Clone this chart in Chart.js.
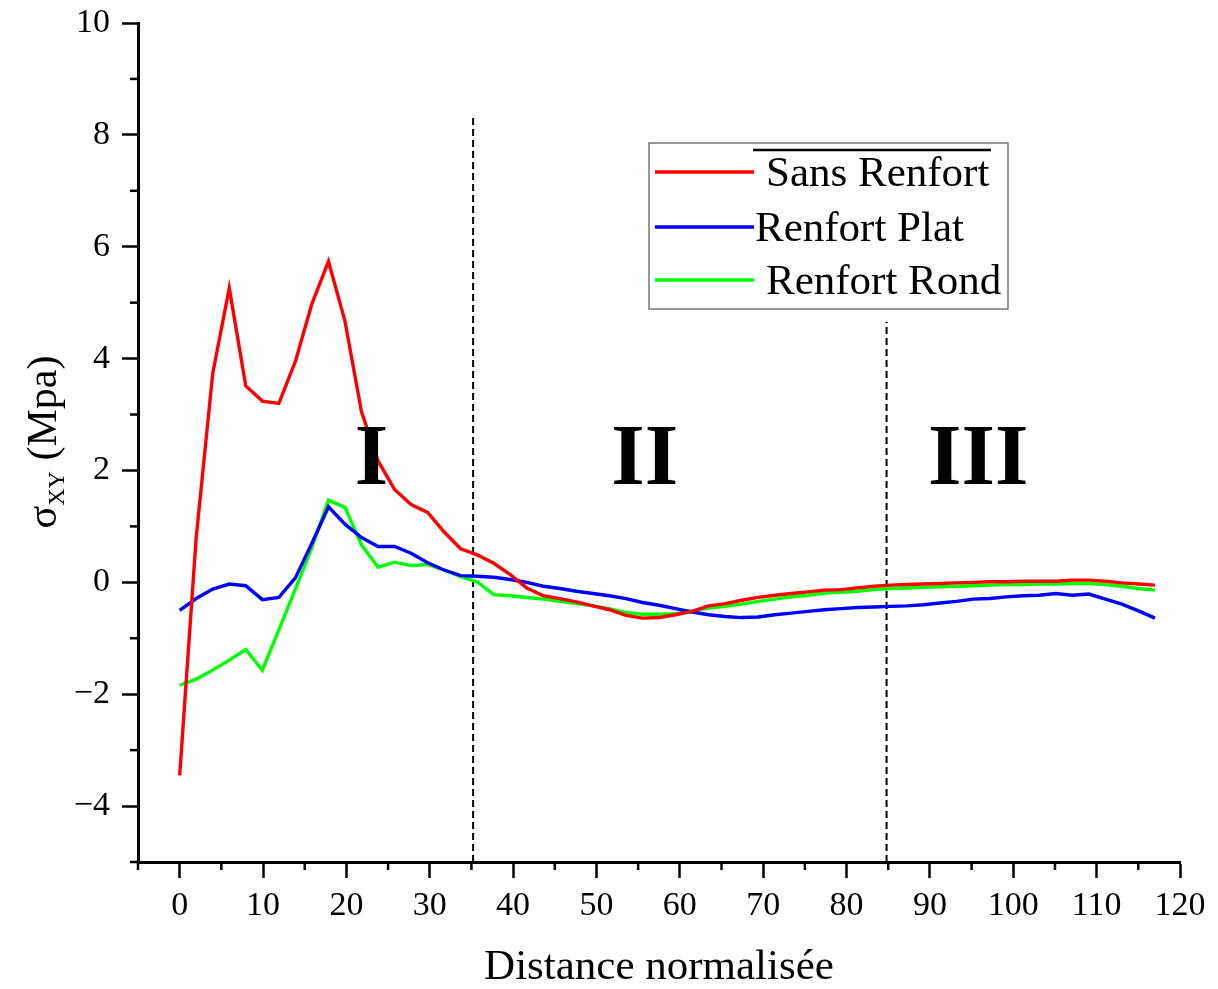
<!DOCTYPE html>
<html>
<head>
<meta charset="utf-8">
<script src="https://cdn.jsdelivr.net/npm/chart.js@4.4.0/dist/chart.umd.min.js"></script>
<style>
  html, body { margin: 0; padding: 0; background: #fff; }
  canvas { display: block; }
</style>
</head>
<body>
<canvas id="stressChart" width="1218" height="989"></canvas>
<script>
// distance normalisée (x) for every sample point
const distances = [0, 1.98, 3.97, 5.95, 7.93, 9.92, 11.9, 13.88, 15.86, 17.85,
  19.83, 21.81, 23.8, 25.78, 27.76, 29.75, 31.73, 33.71, 35.69, 37.68,
  39.66, 41.64, 43.63, 45.61, 47.59, 49.58, 51.56, 53.54, 55.53, 57.51,
  59.49, 61.47, 63.46, 65.44, 67.42, 69.41, 71.39, 73.37, 75.36, 77.34,
  79.32, 81.31, 83.29, 85.27, 87.25, 89.24, 91.22, 93.2, 95.19, 97.17,
  99.15, 101.14, 103.12, 105.1, 107.08, 109.07, 111.05, 113.03, 115.02, 117];

const sansRenfort = [-3.45, 0.8, 3.74, 5.26, 3.51, 3.24, 3.2, 3.95, 4.98, 5.74,
  4.67, 3.05, 2.17, 1.66, 1.39, 1.25, 0.9, 0.6, 0.49, 0.34,
  0.14, -0.1, -0.24, -0.29, -0.35, -0.42, -0.49, -0.59, -0.64, -0.63,
  -0.58, -0.52, -0.42, -0.38, -0.32, -0.27, -0.23, -0.2, -0.17, -0.14,
  -0.13, -0.1, -0.07, -0.05, -0.04, -0.03, -0.02, -0.01, 0, 0.01,
  0.01, 0.02, 0.02, 0.02, 0.04, 0.04, 0.02, -0.01, -0.03, -0.05];

const renfortPlat = [-0.5, -0.29, -0.12, -0.03, -0.06, -0.31, -0.27, 0.08, 0.7, 1.35,
  1.04, 0.8, 0.64, 0.64, 0.52, 0.35, 0.22, 0.12, 0.11, 0.09,
  0.05, 0, -0.07, -0.11, -0.16, -0.2, -0.24, -0.29, -0.36, -0.41,
  -0.47, -0.53, -0.58, -0.61, -0.63, -0.62, -0.58, -0.55, -0.52, -0.49,
  -0.47, -0.45, -0.44, -0.43, -0.42, -0.4, -0.37, -0.34, -0.3, -0.29,
  -0.26, -0.24, -0.23, -0.2, -0.23, -0.21, -0.3, -0.39, -0.51, -0.64];

const renfortRond = [-1.84, -1.73, -1.57, -1.39, -1.2, -1.57, -0.85, -0.12, 0.62, 1.47,
  1.34, 0.67, 0.27, 0.36, 0.3, 0.32, 0.22, 0.1, 0.01, -0.22,
  -0.24, -0.27, -0.3, -0.34, -0.38, -0.42, -0.47, -0.54, -0.57, -0.57,
  -0.56, -0.51, -0.46, -0.43, -0.39, -0.34, -0.3, -0.26, -0.23, -0.19,
  -0.18, -0.16, -0.13, -0.11, -0.1, -0.09, -0.08, -0.07, -0.06, -0.05,
  -0.04, -0.04, -0.03, -0.03, -0.02, -0.02, -0.04, -0.07, -0.11, -0.14];

const seriesNames = ['Sans Renfort', 'Renfort Plat', 'Renfort Rond'];
const seriesColors = ['#ff0000', '#0000ff', '#00ff00'];

const xTickLabels = [0, 10, 20, 30, 40, 50, 60, 70, 80, 90, 100, 110, 120];
const yTickLabels = [-4, -2, 0, 2, 4, 6, 8, 10];

// zone limits (dashed lines) and zone names
const zoneBounds = [35.2, 84.8];
const zoneTops = [8.3, 4.66];
const zoneNames = ['I', 'II', 'III'];
const zoneNameX = [23, 55.8, 95.8];
const zoneNameY = 2.16;

const serif = '"Liberation Serif", "Times New Roman", serif';

const toPoints = (ys) => ys.map((y, i) => ({ x: distances[i], y: y }));

const datasets = [sansRenfort, renfortPlat, renfortRond].map((vals, i) => ({
  label: seriesNames[i],
  data: toPoints(vals),
  borderColor: seriesColors[i],
  borderWidth: 3.4,
  pointRadius: 0,
  tension: 0
}));

zoneBounds.forEach((xb, i) => {
  datasets.push({
    label: 'zone' + i,
    data: [{ x: xb, y: -5 }, { x: xb, y: zoneTops[i] }],
    borderColor: '#000',
    borderWidth: 2,
    borderDash: [7, 4],
    pointRadius: 0
  });
});

const minus = (v) => (v < 0 ? '\u2212' + Math.abs(v) : String(v));

// short minor ticks, axis titles, zone names and the boxed legend
const decorations = {
  id: 'decorations',
  afterDraw(chart) {
    const c = chart.ctx;
    const xs = chart.scales.x;
    const ys = chart.scales.y;
    const area = chart.chartArea;
    c.save();
    c.strokeStyle = '#000';
    c.lineWidth = 2.5;
    for (let v = -5; v <= 9; v += 2) {
      const py = ys.getPixelForValue(v);
      c.beginPath();
      c.moveTo(area.left - 8, py);
      c.lineTo(area.left, py);
      c.stroke();
    }
    for (let v = -5; v <= 115; v += 10) {
      const px = xs.getPixelForValue(v);
      c.beginPath();
      c.moveTo(px, area.bottom);
      c.lineTo(px, area.bottom + 8);
      c.stroke();
    }

    // zone names
    c.fillStyle = '#000';
    c.font = 'bold 86px ' + serif;
    c.textAlign = 'center';
    c.textBaseline = 'middle';
    zoneNames.forEach((n, i) => {
      c.fillText(n, xs.getPixelForValue(zoneNameX[i]), ys.getPixelForValue(zoneNameY));
    });

    // x title
    c.font = '43px ' + serif;
    c.fillText('Distance normalisée', 659, 968);

    // y title with subscript
    c.translate(42, 442);
    c.rotate(-Math.PI / 2);
    c.textAlign = 'left';
    c.textBaseline = 'alphabetic';
    const big = '42px ' + serif;
    const small = '24px ' + serif;
    c.font = big;
    const wS = c.measureText('\u03c3').width;
    const wP = c.measureText(' (Mpa)').width;
    c.font = small;
    const wX = c.measureText('XY').width;
    const x0 = -(wS + wX + wP) / 2;
    const base = 14;
    c.font = big;
    c.fillText('\u03c3', x0, base);
    c.font = small;
    c.fillText('XY', x0 + wS, base + 8);
    c.font = big;
    c.fillText(' (Mpa)', x0 + wS + wX, base);
    c.restore();

    // legend
    c.save();
    c.strokeStyle = '#777';
    c.lineWidth = 1.5;
    c.strokeRect(649, 143, 359, 166);
    c.strokeStyle = '#000';
    c.lineWidth = 2.5;
    c.beginPath();
    c.moveTo(753, 150);
    c.lineTo(991, 150);
    c.stroke();
    const rows = [172, 227, 280];
    const textX = [766, 755, 766];
    c.font = '43px ' + serif;
    c.fillStyle = '#000';
    c.textAlign = 'left';
    c.textBaseline = 'middle';
    seriesNames.forEach((name, i) => {
      c.strokeStyle = seriesColors[i];
      c.lineWidth = 3.4;
      c.beginPath();
      c.moveTo(655, rows[i]);
      c.lineTo(754, rows[i]);
      c.stroke();
      c.fillText(name, textX[i], rows[i] + 3);
    });
    c.restore();
  }
};

const ctx = document.getElementById('stressChart');
const stressChart = new Chart(ctx, {
  type: 'line',
  data: { datasets: datasets },
  options: {
    responsive: false,
    animation: false,
    layout: { padding: { top: 23, right: 38, left: 0, bottom: 0 } },
    plugins: {
      legend: { display: false },
      tooltip: { enabled: false }
    },
    scales: {
      x: {
        type: 'linear',
        min: -5,
        max: 120,
        afterFit: (scale) => {
          scale.height = 127;
          scale.paddingLeft = 0;
          scale.paddingRight = 0;
        },
        border: { color: '#000', width: 3 },
        grid: {
          drawOnChartArea: false,
          tickLength: 16,
          tickWidth: 2.5,
          tickColor: (c) => (xTickLabels.includes(c.tick.value) ? '#000' : 'rgba(0,0,0,0)')
        },
        ticks: {
          stepSize: 5,
          autoSkip: false,
          maxRotation: 0,
          padding: 8,
          color: '#000',
          font: { family: serif, size: 34 },
          callback: (v) => (xTickLabels.includes(v) ? String(v) : '')
        }
      },
      y: {
        type: 'linear',
        min: -5,
        max: 10,
        afterFit: (scale) => {
          scale.width = 138;
          scale.paddingTop = 0;
          scale.paddingBottom = 0;
        },
        border: { color: '#000', width: 3 },
        grid: {
          drawOnChartArea: false,
          tickLength: 16,
          tickWidth: 2.5,
          tickColor: (c) => (yTickLabels.includes(c.tick.value) ? '#000' : 'rgba(0,0,0,0)')
        },
        ticks: {
          stepSize: 1,
          autoSkip: false,
          padding: 12,
          color: '#000',
          font: { family: serif, size: 34 },
          callback: (v) => (yTickLabels.includes(v) ? minus(v) : '')
        }
      }
    }
  },
  plugins: [decorations]
});
</script>
</body>
</html>
